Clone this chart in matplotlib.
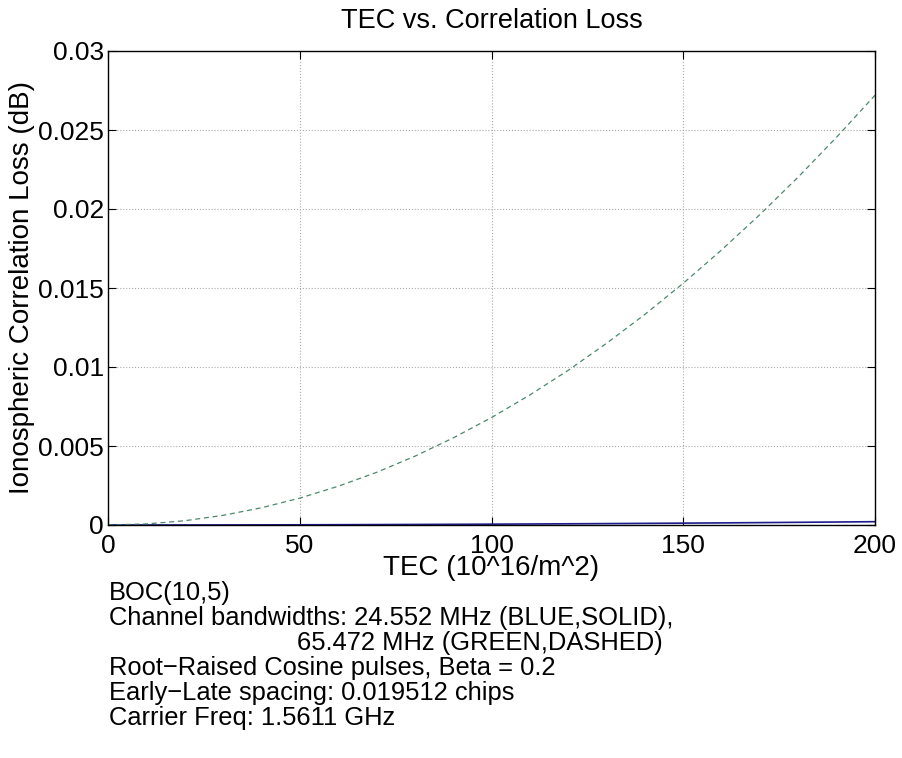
import matplotlib
matplotlib.use('Agg')
import matplotlib.pyplot as plt

plt.rcParams['font.family'] = ['Liberation Sans', 'DejaVu Sans']

# values
tec = [0, 10, 20, 30, 40, 50, 60, 70, 80, 90, 100, 110, 120, 130, 140, 150, 160, 170, 180, 190, 200]
loss_wide = [0, 0.000068, 0.00027, 0.00061, 0.00109, 0.0017, 0.00245, 0.00333, 0.00435, 0.00551,
             0.0068, 0.00823, 0.00979, 0.0115, 0.01333, 0.0153, 0.01741, 0.01965, 0.02203, 0.02455, 0.0272]
loss_narrow = [0, 0.0000005, 0.000002, 0.0000047, 0.0000084, 0.000013, 0.000019, 0.000026, 0.000034,
               0.000043, 0.000053, 0.000064, 0.000076, 0.000089, 0.000103, 0.000118, 0.000134,
               0.000151, 0.00017, 0.000189, 0.00021]

info_lines = ['BOC(10,5)',
              'Channel bandwidths: 24.552 MHz (BLUE,SOLID),',
              '65.472 MHz (GREEN,DASHED)',
              'Root\u2212Raised Cosine pulses, Beta = 0.2',
              'Early\u2212Late spacing: 0.019512 chips',
              'Carrier Freq: 1.5611 GHz']
info_indent = [0, 0, 1, 0, 0, 0]

W, H = 902, 758
fig = plt.figure(figsize=(W / 100, H / 100), dpi=100)
ax = fig.add_axes([108 / W, 1 - 525 / H, 767 / W, 474 / H])

ax.plot(tec, loss_narrow, color='#1c1c8c', linewidth=1.2)
ax.plot(tec, loss_wide, color='#4a8a6a', linewidth=0.9, linestyle=(0, (4, 3)))

ax.set_xlim(0, 200)
ax.set_ylim(0, 0.03)
ax.set_xticks([0, 50, 100, 150, 200])
ax.set_yticks([0, 0.005, 0.01, 0.015, 0.02, 0.025, 0.03])
ax.set_yticklabels(['0', '0.005', '0.01', '0.015', '0.02', '0.025', '0.03'])
ax.tick_params(direction='in', length=6, labelsize=19, top=True, right=True)
ax.tick_params(axis='x', pad=6.5)
ax.tick_params(axis='y', pad=3)
ax.grid(True, linestyle=':', color='#aaaaaa', linewidth=0.8)
for s in ax.spines.values():
    s.set_linewidth(1.0)

fig.text(0.5 * (108 + 875) / W, 1 - 28 / H, 'TEC vs. Correlation Loss',
         fontsize=19.5, ha='center', va='baseline')

ax.set_xlabel('TEC (10^16/m^2)', fontsize=20)
ax.xaxis.set_label_coords(0.5, -50 / 474)
ax.xaxis.label.set_va('baseline')
ax.set_ylabel('Ionospheric Correlation Loss (dB)', fontsize=20)
ax.yaxis.set_label_coords(-86 / 767, 0.5)
ax.yaxis.label.set_va('center')

for i, line in enumerate(info_lines):
    x = 297 if info_indent[i] else 109
    fig.text(x / W, 1 - (593 + i * 25) / H, line, fontsize=18.4, va='center', ha='left')

fig.savefig('out.png', dpi=100)
